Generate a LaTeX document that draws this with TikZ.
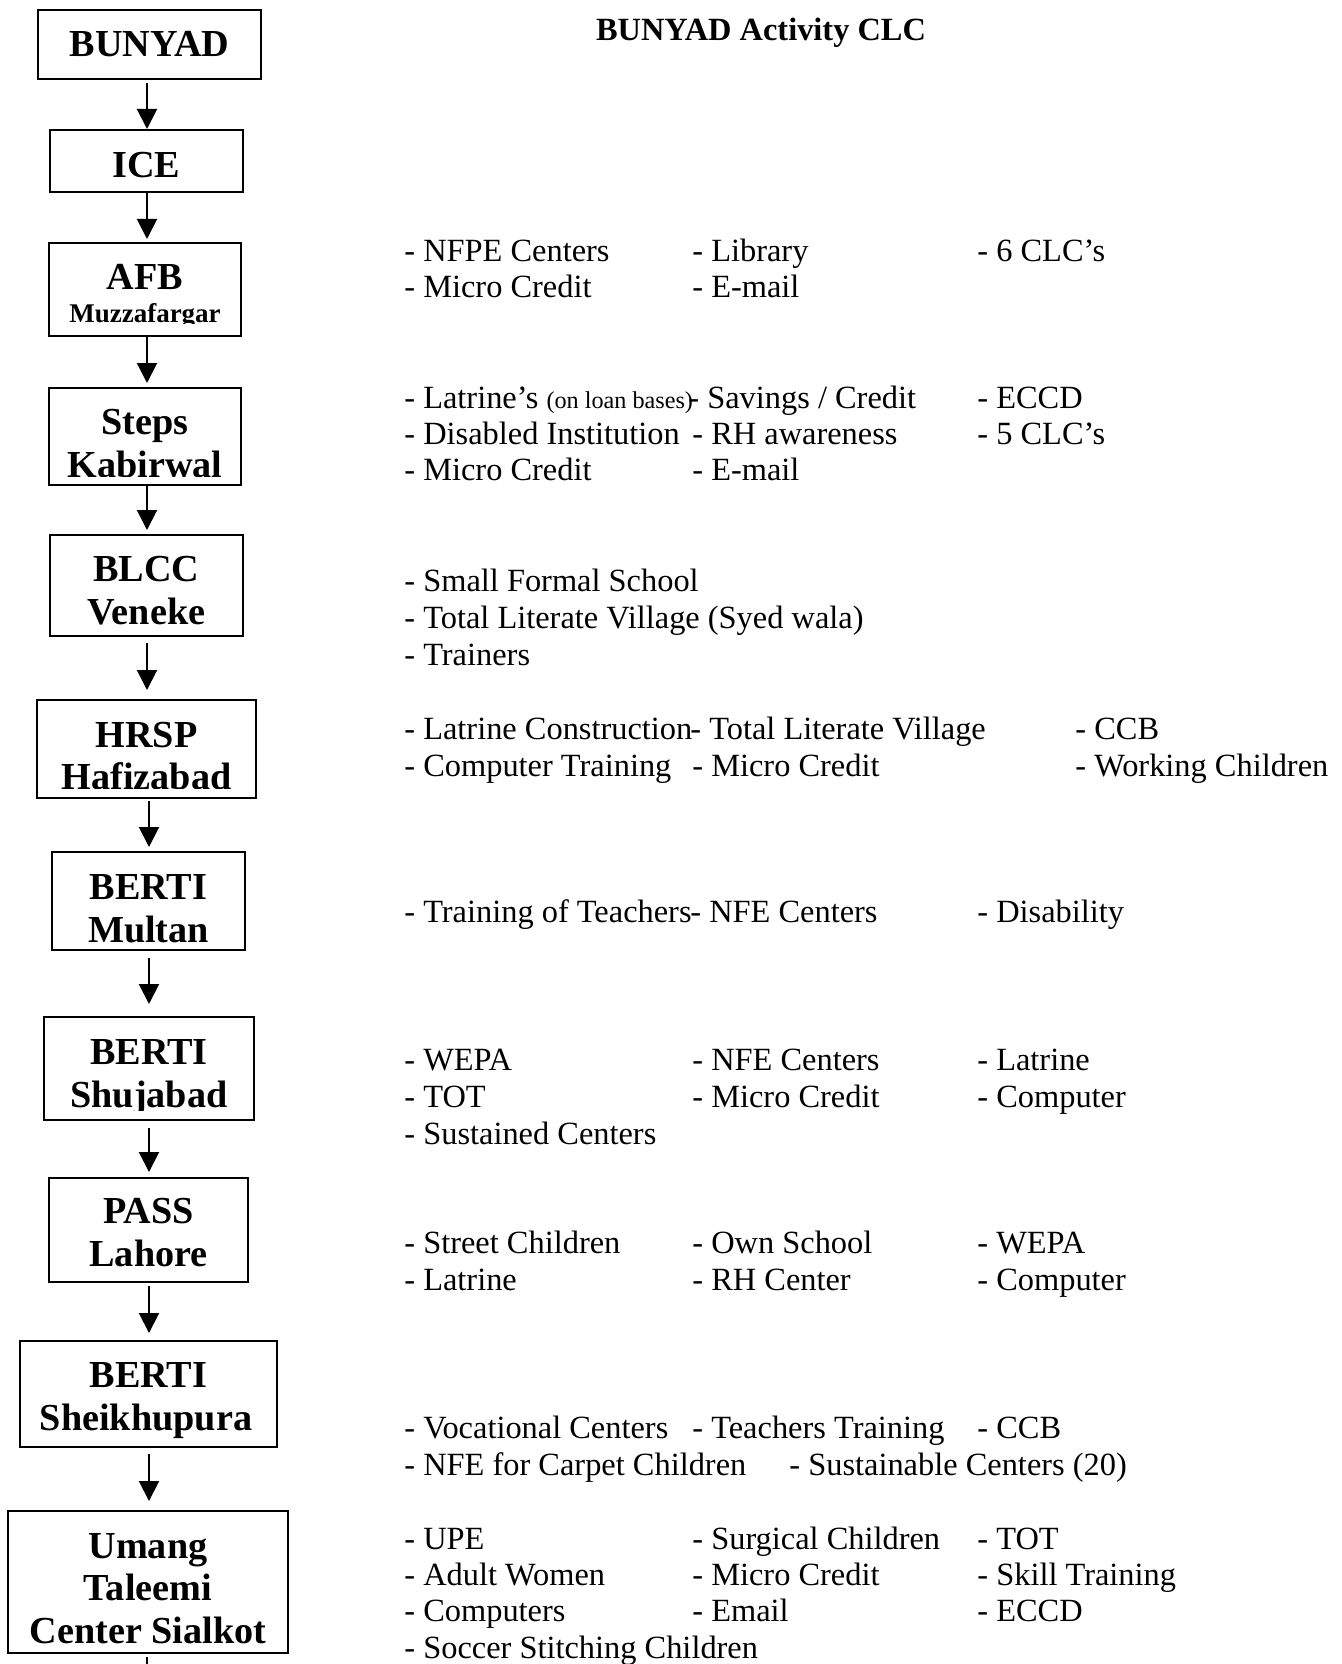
\documentclass[tikz,border=0pt]{standalone}
\usepackage{fontspec}
\setmainfont{Liberation Serif}
\usetikzlibrary{arrows.meta}
\begin{document}
\begin{tikzpicture}[x=0.5pt,y=-0.5pt,
  box/.style={draw, line width=1pt, rectangle, inner sep=0pt, outer sep=0pt},
  bt/.style={anchor=base, inner sep=0pt, font=\fontsize{19.1}{22}\selectfont\bfseries},
  bts/.style={anchor=base, inner sep=0pt, font=\fontsize{13.5}{15}\selectfont\bfseries},
  it/.style={anchor=base west, inner sep=0pt, font=\fontsize{16.2}{18}\selectfont},
  ttl/.style={anchor=base, inner sep=0pt, font=\fontsize{16.2}{18}\selectfont\bfseries},
  arr/.style={-{Triangle[length=10pt,width=10pt]}, line width=1pt},
  ln/.style={line width=1pt}]
\fill[white] (0,0) rectangle (1341,1664);
\useasboundingbox (0,0) rectangle (1341,1664);
\coordinate (colA) at (147,0);
\coordinate (colB) at (149,0);
\coordinate (endpt) at (147,1664);

% boxes
\node[box, minimum width=111.5pt, minimum height=34.5pt] (bunyad) at (149.5,44.5) {};
\node[box, minimum width=96.5pt, minimum height=31pt] (ice) at (146.5,161) {};
\node[box, minimum width=96pt, minimum height=46.5pt] (afb) at (145,289.5) {};
\node[box, minimum width=96pt, minimum height=48.5pt] (steps) at (145,436.5) {};
\node[box, minimum width=96.5pt, minimum height=50.5pt] (blcc) at (146.5,585.5) {};
\node[box, minimum width=109.5pt, minimum height=49pt] (hrsp) at (146.5,749) {};
\node[box, minimum width=96.5pt, minimum height=49pt] (multan) at (148.5,901) {};
\node[box, minimum width=105pt, minimum height=51.5pt] (shuja) at (149,1068.5) {};
\node[box, minimum width=99.5pt, minimum height=52pt] (pass) at (148.5,1230) {};
\node[box, minimum width=128.5pt, minimum height=53pt] (sheikh) at (148.5,1394) {};
\node[box, minimum width=140pt, minimum height=71pt] (umang) at (148,1582) {};

% box texts
\node[bt] (bunyadT) at (149.5,57) {BUNYAD};
\node[bt] (iceT) at (146.5,178) {ICE};
\node[bt] (afbT) at (145,289) {AFB};
\begin{scope}
\clip (50,300) rectangle (240,323);
\node[bts] (afbT2) at (145,322) {Muzzafargar};
\end{scope}
\node[bt] (stepsT) at (145,434) {Steps};
\begin{scope}
\clip (50,440) rectangle (240,476);
\node[bt] (stepsT2) at (145,477) {Kabirwal};
\end{scope}
\node[bt] (blccT) at (146.5,581) {BLCC};
\node[bt] (blccT2) at (146.5,624) {Veneke};
\node[bt] (hrspT) at (146.5,747) {HRSP};
\begin{scope}
\clip (40,750) rectangle (254,788);
\node[bt] (hrspT2) at (146.5,789) {Hafizabad};
\end{scope}
\node[bt] (multanT) at (148.5,899) {BERTI};
\node[bt] (multanT2) at (148.5,942) {Multan};
\node[bt] (shujaT) at (149,1064) {BERTI};
\begin{scope}
\clip (46,1070) rectangle (252,1110);
\node[bt] (shujaT2) at (149,1107) {Shujabad};
\end{scope}
\node[bt] (passT) at (148.5,1223) {PASS};
\node[bt] (passT2) at (148.5,1266) {Lahore};
\node[bt] (sheikhT) at (148.5,1387) {BERTI};
\node[bt] (sheikhT2) at (146,1430) {Sheikhupura};
\node[bt] (umangT) at (148,1558) {Umang};
\node[bt] (umangT2) at (148,1600) {Taleemi};
\node[bt] (umangT3) at (148,1643) {Center Sialkot};

% arrows
\draw[arr, shorten <=2pt, shorten >=0.5pt] (bunyad.south -| colA) -- (ice.north -| colA);
\draw[arr, shorten >=2pt] (ice.south -| colA) -- (afb.north -| colA);
\draw[arr, shorten >=2.5pt] (afb.south -| colA) -- (steps.north -| colA);
\draw[arr, shorten >=2.5pt] (steps.south -| colA) -- (blcc.north -| colA);
\draw[arr, shorten <=3.5pt, shorten >=5pt] (blcc.south -| colA) -- (hrsp.north -| colA);
\draw[arr, shorten <=1.5pt, shorten >=2.5pt] (hrsp.south -| colB) -- (multan.north -| colB);
\draw[arr, shorten <=4pt, shorten >=6.5pt] (multan.south -| colB) -- (shuja.north -| colB);
\draw[arr, shorten <=4pt, shorten >=3pt] (shuja.south -| colB) -- (pass.north -| colB);
\draw[arr, shorten <=2pt, shorten >=4pt] (pass.south -| colB) -- (sheikh.north -| colB);
\draw[arr, shorten <=3.5pt, shorten >=5pt] (sheikh.south -| colB) -- (umang.north -| colB);
\draw[ln, shorten <=2pt] (umang.south -| colA) -- (endpt);

% title
\node[ttl] (title) at (761,41) {BUNYAD Activity CLC};

% AFB
\node[it] (a1) at (404,262) {- NFPE Centers};
\node[it] (a2) at (692,262) {- Library};
\node[it] (a3) at (977,262) {- 6 CLC’s};
\node[it] (a4) at (404,298) {- Micro Credit};
\node[it] (a5) at (692,298) {- E-mail};
% Steps
\node[it] (b1) at (404,408) {- Latrine’s {\fontsize{12.1}{14}\selectfont (on loan bases)}};
\node[it] (b2) at (688,408) {- Savings / Credit};
\node[it] (b3) at (977,408) {- ECCD};
\node[it] (b4) at (404,444) {- Disabled Institution};
\node[it] (b5) at (692,444) {- RH awareness};
\node[it] (b6) at (977,444) {- 5 CLC’s};
\node[it] (b7) at (404,480) {- Micro Credit};
\node[it] (b8) at (692,480) {- E-mail};
% BLCC
\node[it] (c1) at (404,591) {- Small Formal School};
\node[it] (c2) at (404,628) {- Total Literate Village (Syed wala)};
\node[it] (c3) at (404,665) {- Trainers};
% HRSP
\node[it] (d1) at (404,739) {- Latrine Construction};
\node[it] (d2) at (690,739) {- Total Literate Village};
\node[it] (d3) at (1075,739) {- CCB};
\node[it] (d4) at (404,776) {- Computer Training};
\node[it] (d5) at (692,776) {- Micro Credit};
\node[it] (d6) at (1075,776) {- Working Children};
% Multan
\node[it] (e1) at (404,922) {- Training of Teachers};
\node[it] (e2) at (690,922) {- NFE Centers};
\node[it] (e3) at (977,922) {- Disability};
% Shujabad
\node[it] (f1) at (404,1070) {- WEPA};
\node[it] (f2) at (692,1070) {- NFE Centers};
\node[it] (f3) at (977,1070) {- Latrine};
\node[it] (f4) at (404,1107) {- TOT};
\node[it] (f5) at (692,1107) {- Micro Credit};
\node[it] (f6) at (977,1107) {- Computer};
\node[it] (f7) at (404,1144) {- Sustained Centers};
% PASS
\node[it] (g1) at (404,1253) {- Street Children};
\node[it] (g2) at (692,1253) {- Own School};
\node[it] (g3) at (977,1253) {- WEPA};
\node[it] (g4) at (404,1290) {- Latrine};
\node[it] (g5) at (692,1290) {- RH Center};
\node[it] (g6) at (977,1290) {- Computer};
% Sheikhupura
\node[it] (h1) at (404,1438) {- Vocational Centers};
\node[it] (h2) at (692,1438) {- Teachers Training};
\node[it] (h3) at (977,1438) {- CCB};
\node[it] (h4) at (404,1475) {- NFE for Carpet Children};
\node[it] (h5) at (789,1475) {- Sustainable Centers (20)};
% Umang
\node[it] (k1) at (404,1549) {- UPE};
\node[it] (k2) at (692,1549) {- Surgical Children};
\node[it] (k3) at (977,1549) {- TOT};
\node[it] (k4) at (404,1585) {- Adult Women};
\node[it] (k5) at (692,1585) {- Micro Credit};
\node[it] (k6) at (977,1585) {- Skill Training};
\node[it] (k7) at (404,1621) {- Computers};
\node[it] (k8) at (692,1621) {- Email};
\node[it] (k9) at (977,1621) {- ECCD};
\node[it] (k10) at (404,1658) {- Soccer Stitching Children};
\end{tikzpicture}
\end{document}
